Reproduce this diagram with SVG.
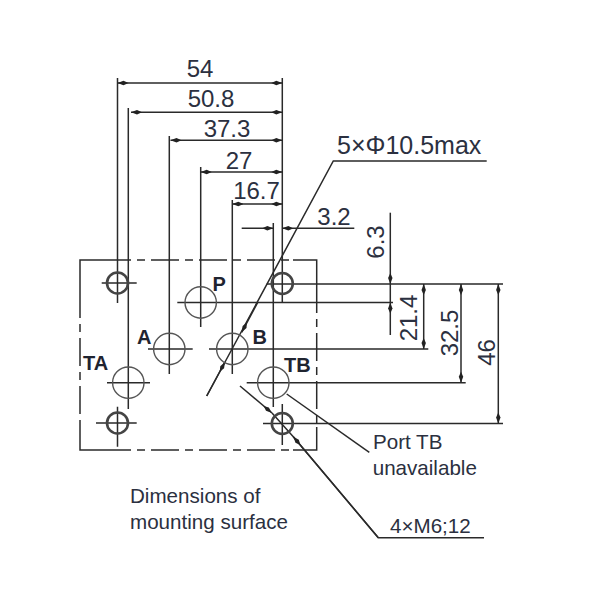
<svg xmlns="http://www.w3.org/2000/svg" width="600" height="600" viewBox="0 0 600 600">
<style>
.l{fill:none;stroke:#2a2a2a;stroke-width:1.5}
.d{marker-end:url(#a);marker-start:url(#a)}
.e{marker-end:url(#a)}
.dd{fill:none;stroke:#2a2a2a;stroke-width:1.5;stroke-dasharray:28 6 8 6}
.big{fill:none;stroke:#555;stroke-width:1.4}
.small{fill:none;stroke:#444;stroke-width:2.6}
text{font-family:"Liberation Sans",Arial,sans-serif;fill:#2b3040}
.t1{font-size:24px}
.t0{font-size:25px}
.t2{font-size:20.6px}
.t3{font-size:20px;font-weight:bold;fill:#1f2430}
</style>
<defs>
<marker id="a" markerUnits="userSpaceOnUse" markerWidth="12" markerHeight="6" refX="11" refY="3" orient="auto-start-reverse"><path d="M0 3L5 0.8L11 3L5 5.2Z" fill="#222"/></marker>
</defs>
<rect width="600" height="600" fill="#fff"/>
<g id="plate">
<path class="l" d="M103 260H80V290M80 427V450H103M293 450H316.7V427M316.7 285V260H293"/>
<path class="dd" d="M103 260H293M103 450H293M80 290V427M316.7 285V427"/>
</g>
<g id="connectors">
<path class="l" d="M117.5 78V303M128.3 108V409M169.3 136V374M200.7 167V327M232.3 200V374M282.3 78V302M273.3 223V407"/>
<path class="l d" d="M117.5 83H282.3"/>
<path class="l d" d="M131 112.3H282.3"/>
<path class="l d" d="M170.5 140.3H282.3"/>
<path class="l d" d="M200.7 172H282.3"/>
<path class="l d" d="M232.3 204H282.3"/>
<path class="l e" d="M241.7 228.3H273.3"/>
<path class="l e" d="M354.3 228.3H282.3"/>
<path class="l" d="M101.7 283H136.7M96 423H136.7M117.5 406.7V446.7M177.3 302.5H393M148 349H192.7M209 349H428.3M107 382.7H150M246.7 382.7H465.7M266.7 284H503M263 423.5H503M282.3 404V445"/>
<path class="l e" d="M390.3 212.7V284"/>
<path class="l e" d="M390.3 335V302.5"/>
<path class="l" d="M390.3 284V302.5"/>
<path class="l d" d="M423.7 284V349"/>
<path class="l d" d="M461 284V382.7"/>
<path class="l d" d="M498.3 284V423.5"/>
<path class="l" d="M486.7 161H333.3L206.7 396"/>
<path class="l e" d="M206.7 396L225 362"/>
<path class="l e" d="M258 302L241.7 332.3"/>
<path class="l e" d="M240 386L272 413"/>
<path class="l" d="M272 413L293.3 436.7L378.3 537.7H484"/>
<path class="l e" d="M378.3 537.7L293.3 436.7"/>
<path class="l" d="M286.7 394L369.3 452.3"/>
</g>
<g id="hole-tl"><circle class="small" cx="117.5" cy="283" r="10.5"/></g>
<g id="hole-tr"><circle class="small" cx="282.3" cy="283.5" r="10.5"/></g>
<g id="hole-bl"><circle class="small" cx="117.5" cy="423" r="10.5"/></g>
<g id="hole-br"><circle class="small" cx="282.3" cy="423.5" r="10.5"/></g>
<g id="port-P"><circle class="big" cx="200.7" cy="302.5" r="15.7"/><text class="t3" x="212.5" y="290.5">P</text></g>
<g id="port-A"><circle class="big" cx="169.3" cy="349" r="15.7"/><text class="t3" x="137" y="344.3">A</text></g>
<g id="port-B"><circle class="big" cx="232.3" cy="349" r="15.7"/><text class="t3" x="252.5" y="344.3">B</text></g>
<g id="port-TA"><circle class="big" cx="128.3" cy="382.7" r="15.7"/><text class="t3" x="83" y="370">TA</text></g>
<g id="port-TB"><circle class="big" cx="273.3" cy="382.7" r="15.7"/><text class="t3" x="284" y="371.5">TB</text></g>
<g id="labels">
<text class="t1" x="200" y="77" text-anchor="middle">54</text>
<text class="t1" x="211" y="107" text-anchor="middle">50.8</text>
<text class="t1" x="227" y="137" text-anchor="middle">37.3</text>
<text class="t1" x="239" y="169" text-anchor="middle">27</text>
<text class="t1" x="256.5" y="199" text-anchor="middle">16.7</text>
<text class="t1" x="334" y="225" text-anchor="middle">3.2</text>
<text class="t0" x="337" y="154">5×Φ10.5max</text>
<text class="t1" text-anchor="middle" transform="translate(384 242) rotate(-90)">6.3</text>
<text class="t1" text-anchor="middle" transform="translate(416.7 318) rotate(-90)">21.4</text>
<text class="t1" text-anchor="middle" transform="translate(458 333) rotate(-90)">32.5</text>
<text class="t1" text-anchor="middle" transform="translate(495 352.5) rotate(-90)">46</text>
<text class="t2" x="373" y="449.3">Port TB</text>
<text class="t2" x="372.7" y="475">unavailable</text>
<text class="t2" x="130" y="503">Dimensions of</text>
<text class="t2" x="130" y="529">mounting surface</text>
<text class="t2" x="390" y="533.3">4×M6;12</text>
</g>
</svg>
